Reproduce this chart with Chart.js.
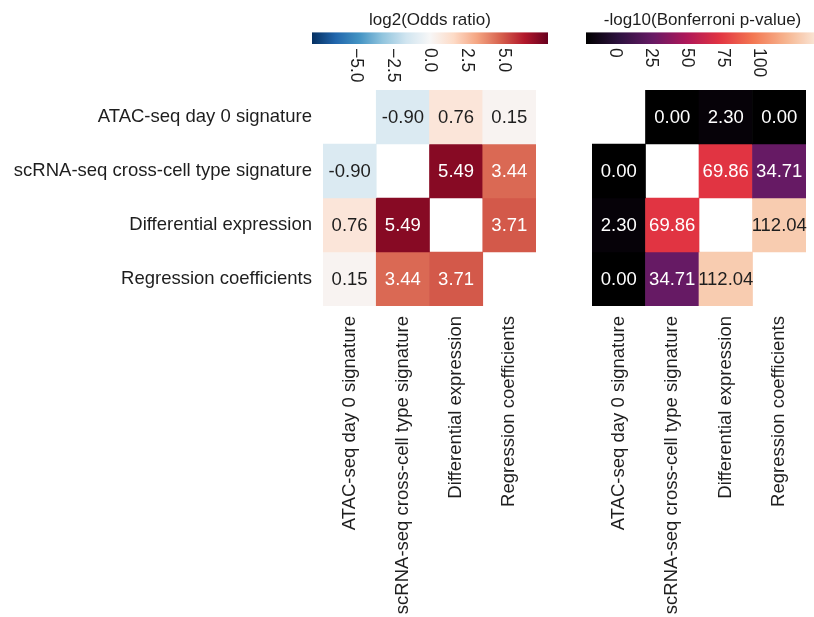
<!DOCTYPE html>
<html>
<head>
<meta charset="utf-8">
<script src="https://cdn.jsdelivr.net/npm/chart.js@4/dist/chart.umd.min.js"></script>
<style>
    html, body { margin: 0; padding: 0; background: #fff; }
    #wrap { position: relative; width: 814px; height: 617px; overflow: hidden; background: #fff; }
    #wrap canvas { position: absolute; top: 0; }
</style>
</head>
<body>
<div id="wrap">
    <canvas id="heatOdds" width="560" height="617" style="left:0"></canvas>
    <canvas id="heatPval" width="254" height="617" style="left:560px"></canvas>
    <canvas id="barOdds" width="560" height="90" style="left:0"></canvas>
    <canvas id="barPval" width="260" height="90" style="left:570px"></canvas>
</div>
<script>
// カテゴリ（行・列共通）
const categories = [
    'ATAC-seq day 0 signature',
    'scRNA-seq cross-cell type signature',
    'Differential expression',
    'Regression coefficients'
];
// log2(Odds ratio) 行列（対角は空白）
const oddsRow0 = [null, -0.90, 0.76, 0.15];
const oddsRow1 = [-0.90, null, 5.49, 3.44];
const oddsRow2 = [0.76, 5.49, null, 3.71];
const oddsRow3 = [0.15, 3.44, 3.71, null];
// -log10(Bonferroni p-value) 行列
const pvalRow0 = [null, 0.00, 2.30, 0.00];
const pvalRow1 = [0.00, null, 69.86, 34.71];
const pvalRow2 = [2.30, 69.86, null, 112.04];
const pvalRow3 = [0.00, 34.71, 112.04, null];
// カラーバーの目盛り
const oddsTicks = [-5, -2.5, 0, 2.5, 5];
const oddsTickLabels = ['\u22125.0', '\u22122.5', '0.0', '2.5', '5.0'];
const pvalTicks = [0, 25, 50, 75, 100];
const pvalTickLabels = ['0', '25', '50', '75', '100'];

const oddsRange = [-6, 6];
const pvalRange = [0, 122];

// カラーマップ
const rdbuStops = ['#053061', '#2166ac', '#4393c3', '#92c5de', '#d1e5f0', '#f7f7f7',
    '#fddbc7', '#f4a582', '#d6604d', '#b2182b', '#67001f'];
const rocketStops = ['#000000', '#2e1240', '#661a64', '#ad1759', '#e13342', '#f37651', '#f6b48f', '#faebdd'];

function hexToRgb(h) {
    return [parseInt(h.slice(1, 3), 16), parseInt(h.slice(3, 5), 16), parseInt(h.slice(5, 7), 16)];
}
function cmap(stops, t) {
    t = Math.max(0, Math.min(1, t));
    const pos = t * (stops.length - 1);
    const i = Math.min(Math.floor(pos), stops.length - 2);
    const f = pos - i;
    const a = hexToRgb(stops[i]), b = hexToRgb(stops[i + 1]);
    return a.map((v, k) => Math.round(v + (b[k] - v) * f));
}
function rgbStr(c) { return 'rgb(' + c.join(',') + ')'; }
function textColorFor(c) {
    const lin = c.map(v => { v /= 255; return v <= 0.03928 ? v / 12.92 : Math.pow((v + 0.055) / 1.055, 2.4); });
    const lum = 0.2126 * lin[0] + 0.7152 * lin[1] + 0.0722 * lin[2];
    return lum > 0.408 ? '#1e1e1e' : '#ffffff';
}

const FONT = "'Liberation Sans', Arial, sans-serif";

// セル内の数値を描くプラグイン
const annotatePlugin = {
    id: 'annotate',
    afterDatasetsDraw(chart) {
        const ctx = chart.ctx;
        ctx.save();
        ctx.font = '18.5px ' + FONT;
        ctx.textAlign = 'center';
        ctx.textBaseline = 'middle';
        chart.data.datasets.forEach((ds, di) => {
            const meta = chart.getDatasetMeta(di);
            meta.data.forEach((bar, i) => {
                const v = ds.values[i];
                if (v === null) return;
                ctx.fillStyle = ds.textColors[i];
                ctx.fillText(v.toFixed(2), bar.x, (bar.y + bar.base) / 2 + 1);
            });
        });
        ctx.restore();
    }
};

function makeHeatmap(id, rows, stops, range, showY, pad) {
    const datasets = rows.map((row, r) => {
        const colors = row.map(v => v === null ? null : cmap(stops, (v - range[0]) / (range[1] - range[0])));
        return {
            data: row.map(v => v === null ? null : [r - 0.5, r + 0.5]),
            values: row,
            backgroundColor: colors.map(c => c ? rgbStr(c) : 'rgba(0,0,0,0)'),
            textColors: colors.map(c => c ? textColorFor(c) : null),
            borderWidth: 0,
            grouped: false,
            barPercentage: 1,
            categoryPercentage: 1
        };
    });
    return new Chart(document.getElementById(id), {
        type: 'bar',
        data: { labels: categories, datasets: datasets },
        options: {
            responsive: false,
            animation: false,
            layout: { padding: pad },
            plugins: { legend: { display: false }, tooltip: { enabled: false }, title: { display: false } },
            scales: {
                x: {
                    grid: { display: false, drawTicks: false },
                    border: { display: false },
                    ticks: { minRotation: 90, maxRotation: 90, padding: 10, color: '#1e1e1e', font: { size: 18.5, family: FONT } },
                    afterFit: s => { s.height = 311; }
                },
                y: {
                    display: showY,
                    reverse: true,
                    min: -0.5,
                    max: 3.5,
                    grid: { display: false, drawTicks: false },
                    border: { display: false },
                    afterBuildTicks: s => { s.ticks = [0, 1, 2, 3].map(v => ({ value: v })); },
                    ticks: {
                        padding: 11,
                        color: '#1e1e1e',
                        font: { size: 18.5, family: FONT },
                        callback: v => categories[v]
                    },
                    afterFit: s => { s.width = showY ? 323 : 0; }
                }
            }
        },
        plugins: [annotatePlugin]
    });
}

// カラーバー（グラデーション＋回転した目盛りラベル）
const colorbarPlugin = {
    id: 'colorbar',
    beforeDatasetsDraw(chart, args, opts) {
        const a = chart.chartArea;
        const ctx = chart.ctx;
        const g = ctx.createLinearGradient(a.left, 0, a.right, 0);
        const n = 60;
        for (let i = 0; i <= n; i++) g.addColorStop(i / n, rgbStr(cmap(opts.stops, i / n)));
        ctx.save();
        ctx.fillStyle = g;
        ctx.fillRect(a.left, a.top, a.right - a.left, a.bottom - a.top);
        ctx.restore();
    },
    afterDraw(chart, args, opts) {
        const ctx = chart.ctx;
        const sx = chart.scales.x;
        ctx.save();
        ctx.font = '17.5px ' + FONT;
        ctx.fillStyle = '#1e1e1e';
        ctx.textAlign = 'left';
        ctx.textBaseline = 'middle';
        opts.ticks.forEach((t, i) => {
            const px = sx.getPixelForValue(t);
            ctx.save();
            ctx.translate(px, chart.chartArea.bottom + 4);
            ctx.rotate(Math.PI / 2);
            ctx.fillText(opts.labels[i], 0, 0);
            ctx.restore();
        });
        ctx.restore();
    }
};

function makeColorbar(id, title, stops, range, ticks, labels, pad) {
    return new Chart(document.getElementById(id), {
        type: 'bar',
        data: { labels: [], datasets: [] },
        options: {
            responsive: false,
            animation: false,
            layout: { padding: pad },
            plugins: {
                legend: { display: false },
                tooltip: { enabled: false },
                title: {
                    display: true,
                    text: title,
                    color: '#1e1e1e',
                    font: { size: 17, weight: 'normal', family: FONT },
                    padding: { top: 10, bottom: 2 }
                },
                colorbar: { stops: stops, ticks: ticks, labels: labels }
            },
            scales: {
                x: { type: 'linear', display: false, min: range[0], max: range[1] },
                y: { display: false }
            }
        },
        plugins: [colorbarPlugin]
    });
}

makeHeatmap('heatOdds', [oddsRow0, oddsRow1, oddsRow2, oddsRow3], rdbuStops, oddsRange, true,
    { top: 90, right: 24, left: 0, bottom: 0 });
makeHeatmap('heatPval', [pvalRow0, pvalRow1, pvalRow2, pvalRow3], rocketStops, pvalRange, false,
    { top: 90, right: 8, left: 32, bottom: 0 });
makeColorbar('barOdds', 'log2(Odds ratio)', rdbuStops, oddsRange, oddsTicks, oddsTickLabels,
    { top: 0, left: 312, right: 12, bottom: 46 });
makeColorbar('barPval', '-log10(Bonferroni p-value)', rocketStops, pvalRange, pvalTicks, pvalTickLabels,
    { top: 0, left: 16, right: 11, bottom: 46 });
</script>
</body>
</html>
